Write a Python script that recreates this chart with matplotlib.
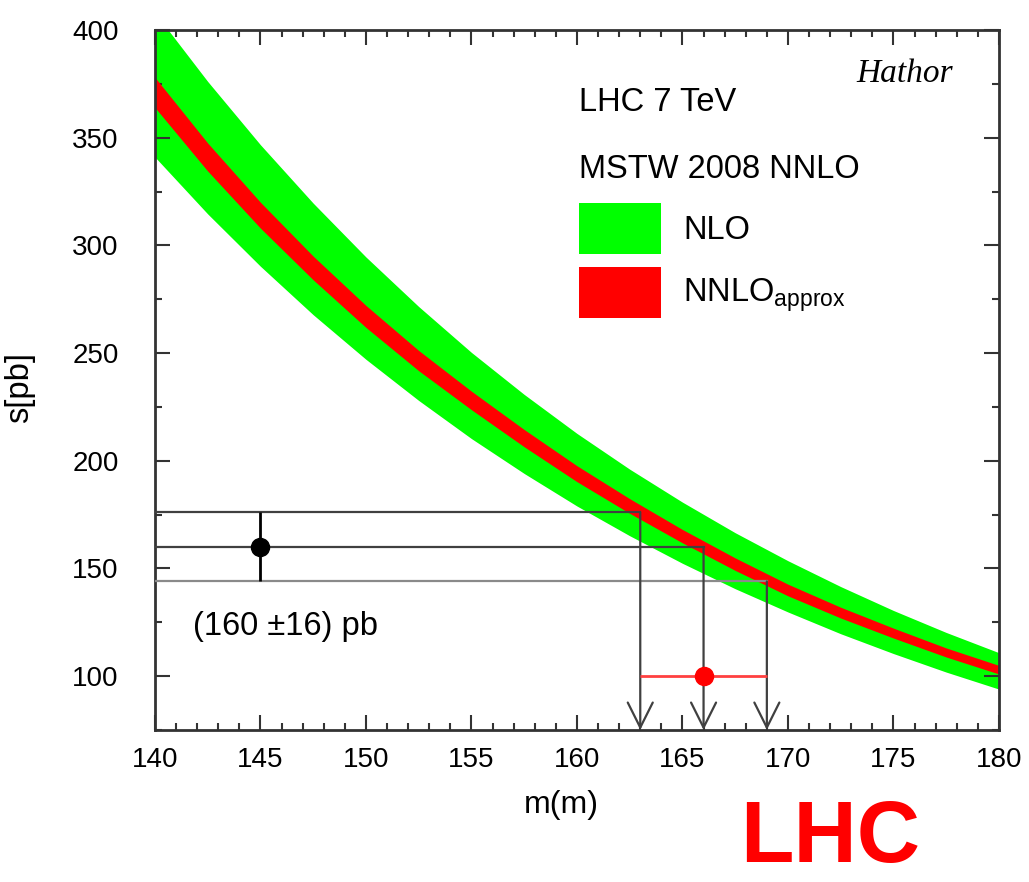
import numpy as np
import matplotlib.pyplot as plt
from matplotlib.ticker import MultipleLocator

plt.rcParams['font.family'] = ['Liberation Sans', 'DejaVu Sans']

# top mass grid and cross sections [pb]
mt = [140, 142.5, 145, 147.5, 150, 152.5, 155, 157.5, 160, 162.5,
      165, 167.5, 170, 172.5, 175, 177.5, 180]
nlo_hi = [408, 376.1, 346.7, 319.6, 294.6, 271.6, 250.3, 230.8, 212.7, 196.1,
          180.8, 166.6, 153.6, 141.6, 130.5, 120.3, 110.9]
nlo_lo = [341, 314.6, 290.3, 267.8, 247.1, 228.0, 210.3, 194.1, 179.0, 165.2,
          152.4, 140.6, 129.8, 119.7, 110.5, 101.9, 94.0]
nnlo_hi = [378.0, 347.5, 320.0, 295.0, 272.1, 251.2, 232.3, 214.5, 197.7, 182.4,
           168.1, 154.9, 142.7, 132.0, 122.3, 113.1, 105.0]
nnlo_lo = [364.0, 334.5, 308.0, 284.0, 261.9, 241.8, 223.7, 206.5, 190.3, 175.6,
           161.9, 149.1, 137.3, 127.0, 117.7, 108.9, 101.0]

# measured cross section and extracted mass
sigma_meas = [144, 160, 176]
mass_ext = [169, 166, 163]
meas_x = 145
ymin, ymax = 75, 400

fig = plt.figure(figsize=(10.29, 8.82), dpi=100)
ax = fig.add_axes([0.1506, 0.1723, 0.8202, 0.7937])

ax.fill_between(mt, nlo_lo, nlo_hi, color='#00ff00', lw=0, zorder=1)
ax.fill_between(mt, nnlo_lo, nnlo_hi, color='#ff0000', lw=0, zorder=2)

# lines from the measurement to the curve and down to the mass axis
line_cols = ['#8a8a8a', '#404040', '#404040']
for s, m, c in zip(sigma_meas, mass_ext, line_cols):
    ax.plot([140, m], [s, s], color=c, lw=1.6, zorder=3)
    ax.annotate('', xy=(m, ymin), xytext=(m, s),
                arrowprops=dict(arrowstyle='->,head_length=0.9,head_width=0.45',
                                color='#404040', lw=1.6, mutation_scale=20,
                                shrinkA=0, shrinkB=0),
                zorder=3)

ax.errorbar([meas_x], [sigma_meas[1]],
            yerr=[[sigma_meas[1] - sigma_meas[0]], [sigma_meas[2] - sigma_meas[1]]],
            fmt='o', color='black', ms=13, elinewidth=2, capsize=0, zorder=4)
ax.errorbar([mass_ext[1]], [100],
            xerr=[[mass_ext[1] - mass_ext[2]], [mass_ext[0] - mass_ext[1]]],
            fmt='o', color='#ff0000', ecolor='#ff4040', ms=13, elinewidth=2,
            capsize=0, zorder=4)

ax.text(141.8, 123, '(160 ±16) pb', fontsize=23.5, va='center', ha='left')

ax.set_xlim(140, 180)
ax.set_ylim(ymin, ymax)
ax.xaxis.set_major_locator(MultipleLocator(5))
ax.xaxis.set_minor_locator(MultipleLocator(1))
ax.yaxis.set_major_locator(MultipleLocator(50))
ax.yaxis.set_minor_locator(MultipleLocator(25))
ax.tick_params(which='both', direction='in', top=True, right=True,
               labelsize=20, width=1.5, color='#333333')
ax.tick_params(which='major', length=11)
ax.tick_params(which='minor', length=5)
ax.tick_params(axis='x', which='major', pad=12)
ax.tick_params(axis='y', which='major', pad=26)
for sp in ax.spines.values():
    sp.set_linewidth(2)
    sp.set_color('#333333')

ax.set_xlabel('m(m)', fontsize=23)
ax.set_ylabel('s[pb]', fontsize=23.5)
ax.xaxis.set_label_coords(0.481, -0.085)
ax.yaxis.set_label_coords(-0.142, 0.49)

# legend block
ax.text(0.502, 0.896, 'LHC 7 TeV', transform=ax.transAxes, fontsize=23.5, va='center')
ax.text(0.502, 0.800, 'MSTW 2008 NNLO', transform=ax.transAxes, fontsize=23.5, va='center')
ax.add_patch(plt.Rectangle((0.502, 0.680), 0.097, 0.073, transform=ax.transAxes,
                           color='#00ff00', lw=0, zorder=5))
ax.add_patch(plt.Rectangle((0.502, 0.589), 0.097, 0.073, transform=ax.transAxes,
                           color='#ff0000', lw=0, zorder=5))
ax.text(0.626, 0.714, 'NLO', transform=ax.transAxes, fontsize=23.5, va='center')
ax.text(0.626, 0.621, r'NNLO$_{\mathregular{approx}}$', transform=ax.transAxes,
        fontsize=23.5, va='center')
ax.text(0.945, 0.937, 'Hathor', transform=ax.transAxes, fontsize=24, ha='right',
        va='center', family=['Liberation Serif'], style='italic')

fig.text(0.807, 0.002, 'LHC', color='#ff0000', fontsize=63, fontweight='bold',
         ha='center', va='bottom')

fig.savefig('out.png', dpi=100)
